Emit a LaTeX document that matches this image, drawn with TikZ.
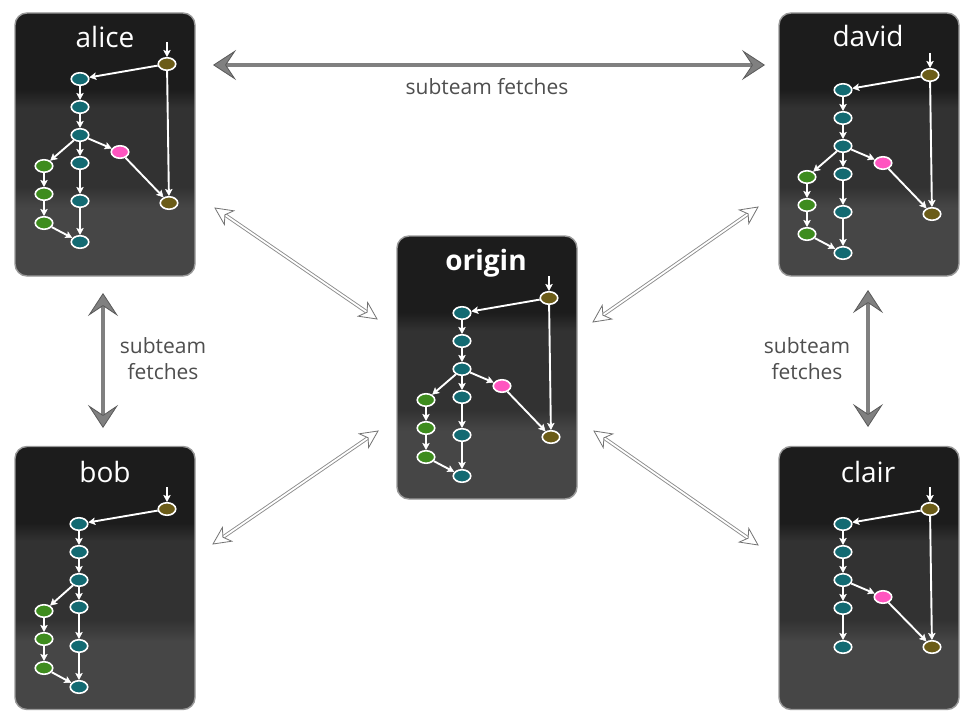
\documentclass[tikz,border=0pt]{standalone}
\usepackage{fontspec}
\setmainfont{Open Sans}
\usetikzlibrary{shapes.geometric,arrows.meta,calc}
\definecolor{btop}{HTML}{1C1C1C}
\definecolor{bmid}{HTML}{323232}
\definecolor{bbot}{HTML}{464646}
\definecolor{cteal}{HTML}{136A72}
\definecolor{cgreen}{HTML}{3E8C1E}
\definecolor{cpink}{HTML}{FF55C0}
\definecolor{cbrown}{HTML}{6B5C18}
\definecolor{biggray}{HTML}{808080}
\definecolor{bigedge}{HTML}{5A5A5A}
\definecolor{lblgray}{HTML}{4E4E4E}
\pgfdeclareverticalshading{boxshade}{100bp}{color(0bp)=(bbot); color(38bp)=(bbot); color(42bp)=(bmid); color(57bp)=(bmid); color(60.5bp)=(btop); color(100bp)=(btop)}
\tikzset{
  repobox/.style={rectangle, rounded corners=12pt, shade, shading=boxshade, draw=black!40, line width=1.4pt, inner sep=0pt, minimum width=180pt, minimum height=263pt},
  repotitle/.style={text=white, anchor=base, font=\fontsize{28}{32}\selectfont},
  commit/.style={ellipse, draw=white, line width=1.6pt, minimum width=17.5pt, minimum height=12.5pt, inner sep=0pt},
  tc/.style={commit, fill=cteal},
  gc/.style={commit, fill=cgreen},
  pc/.style={commit, fill=cpink},
  bc/.style={commit, fill=cbrown},
  ce/.style={draw=white, line width=1.9pt, -{Stealth[length=7pt,width=7.5pt,inset=1.5pt,line width=0.5pt]}},
  bigarrow/.style={draw=biggray, line width=4.5pt,
    {Stealth[length=23pt,width=30pt,inset=10pt,line width=0.8pt,fill=biggray,color=bigedge]}-{Stealth[length=23pt,width=30pt,inset=10pt,line width=0.8pt,fill=biggray,color=bigedge]}},
  dshaft/.style={draw=black!45, line width=3.6pt, shorten <=12pt, shorten >=12pt},
  dshaftin/.style={draw=white, line width=1.8pt, shorten <=11pt, shorten >=11pt},
  dheadsty/.style={draw=black!55, fill=white, line width=0.8pt, line join=miter},
  lbl/.style={text=lblgray, font=\fontsize{21}{26}\selectfont, align=center}
}
\newcommand\dhead[2]{\filldraw[dheadsty] (#1) -- ($(#1)!19pt!26:(#2)$) -- ($(#1)!12pt!(#2)$) -- ($(#1)!19pt!-26:(#2)$) -- cycle;}
\newcommand\diagarrow[2]{%
  \draw[dshaft] (#1) -- (#2);
  \draw[dshaftin] (#1) -- (#2);
  \dhead{#1}{#2}\dhead{#2}{#1}}
\newcommand\fullgraph[1]{%
  \node[bc] (#1bt) at (152,62) {};
  \coordinate (#1in) at (152,40);
  \node[tc] (#1t1) at (65,77) {};
  \node[tc] (#1t2) at (65,105) {};
  \node[tc] (#1t3) at (65,133) {};
  \node[pc] (#1pk) at (105,150) {};
  \node[tc] (#1t4) at (65,161) {};
  \node[gc] (#1g1) at (29,164) {};
  \node[gc] (#1g2) at (29,192) {};
  \node[gc] (#1g3) at (29,221) {};
  \node[tc] (#1t5) at (65,199) {};
  \node[tc] (#1t6) at (65,240) {};
  \node[bc] (#1bb) at (154,201) {};
  \draw[ce] (#1in) -- (#1bt);
  \draw[ce] (#1bt) -- (#1t1);
  \draw[ce] (#1bt) -- (#1bb);
  \draw[ce] (#1t1) -- (#1t2);
  \draw[ce] (#1t2) -- (#1t3);
  \draw[ce] (#1t3) -- (#1pk);
  \draw[ce] (#1pk) -- (#1bb);
  \draw[ce] (#1t3) -- (#1t4);
  \draw[ce] (#1t3) -- (#1g1);
  \draw[ce] (#1g1) -- (#1g2);
  \draw[ce] (#1g2) -- (#1g3);
  \draw[ce] (#1g3) -- (#1t6);
  \draw[ce] (#1t4) -- (#1t5);
  \draw[ce] (#1t5) -- (#1t6);
}
\begin{document}
\begin{tikzpicture}[x=1pt,y=-1pt]
\useasboundingbox[fill=white] (0,0) rectangle (974,722);
% repository boxes
\node[repobox] (alice) at (105,144.5) {};
\node[repobox] (david) at (869,144.5) {};
\node[repobox] (origin) at (487,367.5) {};
\node[repobox] (bob) at (105,578) {};
\node[repobox] (clair) at (869,578) {};
% titles
\node[repotitle] (alicetitle) at (105,48) {alice};
\node[repotitle] (davidtitle) at (868,47) {david};
\node[repotitle, font=\fontsize{28}{32}\selectfont\bfseries] (origintitle) at (486,270) {origin};
\node[repotitle] (bobtitle) at (105,482) {bob};
\node[repotitle] (clairtitle) at (868,482) {clair};
% graphs
\begin{scope}[shift={(15,2)}]\fullgraph{a}\end{scope}
\begin{scope}[shift={(778,13)}]\fullgraph{d}\end{scope}
\begin{scope}[shift={(397,236)}]\fullgraph{o}\end{scope}
\begin{scope}[shift={(778,446)}]
  \node[bc] (cbt) at (152,63) {};
  \coordinate (cin) at (152,41);
  \node[tc] (ct1) at (65,78) {};
  \node[tc] (ct2) at (65,106) {};
  \node[tc] (ct3) at (65,134) {};
  \node[pc] (cpk) at (105,151) {};
  \node[tc] (ct4) at (65,162) {};
  \node[tc] (ct5) at (65,201) {};
  \node[bc] (cbb) at (154,201) {};
  \draw[ce] (cin) -- (cbt);
  \draw[ce] (cbt) -- (ct1);
  \draw[ce] (cbt) -- (cbb);
  \draw[ce] (ct1) -- (ct2);
  \draw[ce] (ct2) -- (ct3);
  \draw[ce] (ct3) -- (ct4);
  \draw[ce] (ct4) -- (ct5);
  \draw[ce] (ct3) -- (cpk);
  \draw[ce] (cpk) -- (cbb);
\end{scope}
\begin{scope}[shift={(15,446)}]
  \node[bc] (bbt) at (152,63) {};
  \coordinate (bin) at (152,41);
  \node[tc] (bt1) at (64,78) {};
  \node[tc] (bt2) at (64,106) {};
  \node[tc] (bt3) at (64,134) {};
  \node[tc] (bt4) at (64,161) {};
  \node[gc] (bg1) at (29,165) {};
  \node[gc] (bg2) at (29,193) {};
  \node[gc] (bg3) at (29,222) {};
  \node[tc] (bt5) at (64,200) {};
  \node[tc] (bt6) at (64,241) {};
  \draw[ce] (bin) -- (bbt);
  \draw[ce] (bbt) -- (bt1);
  \draw[ce] (bt1) -- (bt2);
  \draw[ce] (bt2) -- (bt3);
  \draw[ce] (bt3) -- (bg1);
  \draw[ce] (bt3) -- (bt4);
  \draw[ce] (bg1) -- (bg2);
  \draw[ce] (bg2) -- (bg3);
  \draw[ce] (bg3) -- (bt6);
  \draw[ce] (bt4) -- (bt5);
  \draw[ce] (bt5) -- (bt6);
\end{scope}
% subteam fetch arrows
\coordinate (hL) at (213,65);
\coordinate (hR) at (765,65);
\draw[bigarrow] (hL) -- (hR);
\node[lbl] (hlbl) at (487,87) {subteam fetches};
\coordinate (vLt) at (103,293);
\coordinate (vLb) at (103,428);
\draw[bigarrow] (vLt) -- (vLb);
\node[lbl] (vLlbl) at (163,359) {subteam\\fetches};
\coordinate (vRt) at (868,290);
\coordinate (vRb) at (868,427);
\draw[bigarrow] (vRt) -- (vRb);
\node[lbl] (vRlbl) at (807,359) {subteam\\fetches};
% origin arrows
\coordinate (d1a) at (215,208);
\coordinate (d1b) at (377,319);
\coordinate (d2a) at (758,207);
\coordinate (d2b) at (593,322);
\coordinate (d3a) at (378,431);
\coordinate (d3b) at (213,544);
\coordinate (d4a) at (594,431);
\coordinate (d4b) at (758,545);
\diagarrow{d1a}{d1b}
\diagarrow{d2a}{d2b}
\diagarrow{d3a}{d3b}
\diagarrow{d4a}{d4b}
\end{tikzpicture}
\end{document}
